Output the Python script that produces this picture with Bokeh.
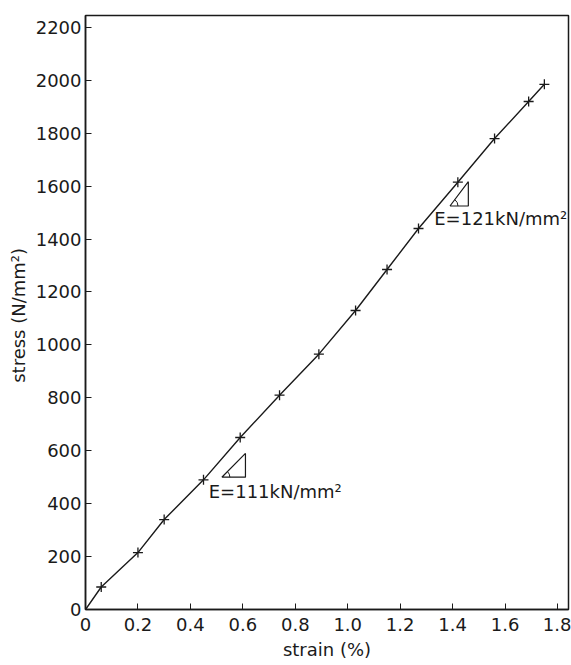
import math
from bokeh.plotting import figure
from bokeh.models import FixedTicker, Label, Range1d
from bokeh.core.properties import value
from bokeh.embed import file_html
from bokeh.resources import INLINE

# data
strain = [0.0, 0.06, 0.20, 0.30, 0.45, 0.59, 0.74, 0.89, 1.03, 1.15, 1.27, 1.42, 1.56, 1.69, 1.75]
stress = [0, 85, 215, 340, 490, 650, 810, 965, 1130, 1285, 1440, 1615, 1780, 1920, 1985]

x_ticks = [0, 0.2, 0.4, 0.6, 0.8, 1.0, 1.2, 1.4, 1.6, 1.8]
x_tick_labels = ["0", "0.2", "0.4", "0.6", "0.8", "1.0", "1.2", "1.4", "1.6", "1.8"]
y_ticks = [0, 200, 400, 600, 800, 1000, 1200, 1400, 1600, 1800, 2000, 2200]

tri_low_x = [0.52, 0.61, 0.61, 0.52]
tri_low_y = [500, 590, 500, 500]
tri_up_x = [1.39, 1.46, 1.46, 1.39]
tri_up_y = [1525, 1617, 1525, 1525]

label_low = "E=111kN/mm²"
label_low_pos = (0.47, 447)
label_up = "E=121kN/mm²"
label_up_pos = (1.33, 1477)

FONT = "DejaVu Sans"
INK = "#1a1a1a"

p = figure(width=571, height=665,
           min_border_left=85, min_border_top=15, min_border_right=3, min_border_bottom=56,
           x_range=Range1d(0, 1.842), y_range=Range1d(0, 2245),
           output_backend="svg", toolbar_location=None)

p.background_fill_color = "white"
p.border_fill_color = "white"
p.outline_line_color = INK
p.outline_line_width = 1.5
p.grid.visible = False

# axes
p.xaxis.ticker = FixedTicker(ticks=x_ticks)
p.xaxis.major_label_overrides = {t: l for t, l in zip(x_ticks, x_tick_labels)}
p.yaxis.ticker = FixedTicker(ticks=y_ticks)
for ax in (p.xaxis, p.yaxis):
    ax.axis_line_color = INK
    ax.axis_line_width = 1.5
    ax.major_tick_in = 6
    ax.major_tick_out = 0
    ax.minor_tick_line_color = None
    ax.major_tick_line_color = INK
    ax.major_label_text_font = FONT
    ax.major_label_text_font_size = "18px"
    ax.major_label_text_color = INK
    ax.axis_label_text_font = FONT
    ax.axis_label_text_font_size = "18px"
    ax.axis_label_text_font_style = "normal"
    ax.axis_label_text_color = INK

p.xaxis.major_label_standoff = 8
p.xaxis.axis_label = "strain (%)"
p.xaxis.axis_label_standoff = 5
p.yaxis.major_label_standoff = 4
p.yaxis.axis_label = "stress  (N/mm²)"
p.yaxis.axis_label_standoff = 4

# curve + markers
p.line(strain, stress, line_color=INK, line_width=1.4)
p.scatter(strain[1:], stress[1:], marker="cross", size=10, line_color=INK, line_width=1.3)

# slope triangles
p.line(tri_low_x, tri_low_y, line_color=INK, line_width=1.2)
p.line(tri_up_x, tri_up_y, line_color=INK, line_width=1.2)
p.arc(x=[tri_low_x[0], tri_up_x[0]], y=[tri_low_y[0], tri_up_y[0]], radius=8,
      radius_units="screen", start_angle=0, end_angle=[math.radians(45), math.radians(52)],
      line_color=INK, line_width=1)

for txt, (tx, ty) in ((label_low, label_low_pos), (label_up, label_up_pos)):
    p.add_layout(Label(x=tx, y=ty, text=txt, text_font=FONT, text_font_size="18px",
                       text_color=INK, text_baseline="middle", text_align="left"))

open("out.html", "w").write(file_html(p, INLINE))
